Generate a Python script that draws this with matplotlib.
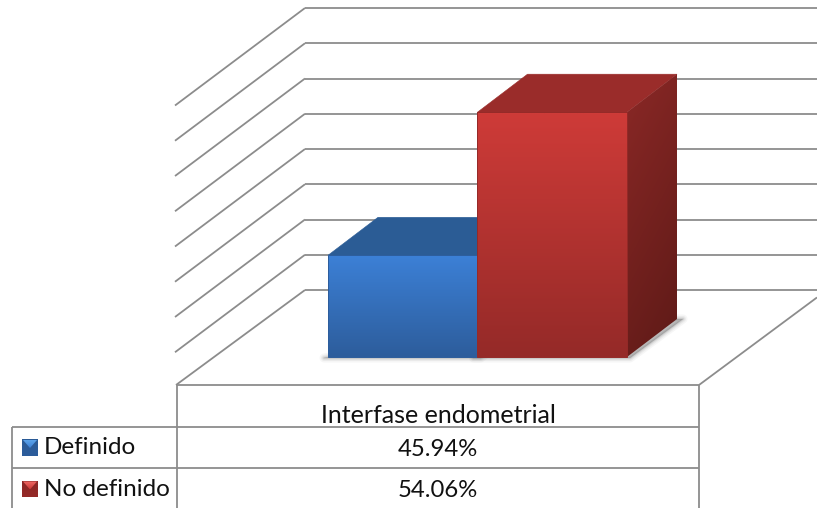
import numpy as np
import matplotlib
matplotlib.use("Agg")
import matplotlib.pyplot as plt
from matplotlib.patches import Polygon
from matplotlib.colors import LinearSegmentedColormap

# --- data ---
series_names = ["Definido", "No definido"]
series_values = [45.94, 54.06]
category = "Interfase endometrial"
axis_min, axis_max, axis_step = 40, 56, 2

front_colors = [("#3c80d6", "#2d5d9c"), ("#ce3b38", "#952a28")]
top_colors = ["#2b5c95", "#9a2c2a"]
side_colors = [("#234c7c", "#1b3a60"), ("#8a2826", "#5e1a17")]
key_colors = [("#5ba3ea", "#2a5a96"), ("#ee6a66", "#8a2725")]

# --- layout (pixels) ---
W, H = 817, 508
LINE = "#8c8c8c"
back_left, back_floor, back_top = 305, 290, 8
front_left, front_right, front_floor = 177, 699, 385
wall_drop = 97.5
depth_dx, depth_dy = 50, 38
bar_left, bar_width, bar_floor, bar_zero = 328, 149.5, 357, 360

px_per_unit = (back_floor - back_top) / (axis_max - axis_min)
def val_px(v):
    return (v - axis_min) * px_per_unit

fig = plt.figure(figsize=(W / 100, H / 100), dpi=100)
ax = fig.add_axes([0, 0, 1, 1])
ax.set_xlim(0, W)
ax.set_ylim(H, 0)
ax.axis("off")
lw_px = 1.8 * 72 / 100

def gradient(poly, c0, c1, zorder, diag=False):
    cmap = LinearSegmentedColormap.from_list("g", [c0, c1])
    xs, ys = zip(*poly)
    g = np.linspace(0, 1, 64)[:, None] * np.ones((64, 64))
    if diag:
        g = g * 0.75 + np.linspace(0, 1, 64)[None, :] * 0.25
    im = ax.imshow(g, cmap=cmap, vmin=0, vmax=1, aspect="auto", interpolation="bilinear",
                   extent=[min(xs), max(xs), max(ys), min(ys)], zorder=zorder)
    p = Polygon(poly, closed=True, fc="none", ec="none", transform=ax.transData)
    ax.add_patch(p)
    im.set_clip_path(p)

def line(xs, ys, z=1, lw=lw_px, c=LINE):
    ax.plot(xs, ys, color=c, lw=lw, zorder=z, solid_capstyle="butt")

# walls and gridlines
for tick in np.arange(axis_min, axis_max + axis_step, axis_step):
    y = back_floor - val_px(tick)
    line([back_left, W], [y, y])
    if tick == axis_min:
        line([front_left - 1, back_left], [front_floor, y])
    else:
        line([front_left - 2, back_left], [y + wall_drop, y])
# floor
line([front_right, W], [front_floor, front_floor - (W - front_right) * 0.742])

# bars
for i, (name, v) in enumerate(zip(series_names, series_values)):
    x0 = bar_left + i * bar_width
    x1 = x0 + bar_width
    h = val_px(v)
    ytop = bar_zero - h
    z = 3 + i
    # soft shadow
    shadow = [(x0 - 4, bar_floor + 1), (x1 + 3, bar_floor + 1),
              (x1 + depth_dx + 6, bar_floor - depth_dy), (x1 + depth_dx, bar_floor - depth_dy)]
    for w, a in zip([9, 6, 3.5, 1.5], [0.05, 0.07, 0.10, 0.14]):
        ax.add_patch(Polygon(shadow, closed=True, fc="#555555", ec="#555555", alpha=a, lw=w * 0.72,
                             joinstyle="round", zorder=2))
    top = [(x0, ytop), (x1, ytop), (x1 + depth_dx, ytop - depth_dy), (x0 + depth_dx, ytop - depth_dy)]
    ax.add_patch(Polygon(top, closed=True, fc=top_colors[i], ec=top_colors[i], lw=0.4, zorder=z))
    side = [(x1, ytop), (x1 + depth_dx, ytop - depth_dy),
            (x1 + depth_dx, bar_floor - depth_dy), (x1, bar_floor)]
    gradient(side, side_colors[i][0], side_colors[i][1], z, diag=True)
    front = [(x0, ytop), (x1, ytop), (x1, bar_floor), (x0, bar_floor)]
    gradient(front, front_colors[i][0], front_colors[i][1], z + 0.1)
    ax.add_patch(Polygon(front, closed=True, fc="none", ec=front_colors[i][1], lw=0.7, zorder=z + 0.2))

# data table
row_tops = [385, 427, 468, 510]
table_left = 12
line([front_left, front_right], [row_tops[0], row_tops[0]])
for y in row_tops[1:]:
    line([table_left, front_right], [y, y], z=6)
line([front_left, front_left], [row_tops[0], H], z=6)
line([front_right, front_right], [row_tops[0], H], z=6)
line([table_left, table_left], [row_tops[1], H], z=6)

FONT = "Lato"
center = (front_left + front_right) / 2
ax.text(center, 415.5, category, ha="center", va="center", fontsize=18, family=FONT, color="#111111", zorder=7)
for i, (name, v) in enumerate(zip(series_names, series_values)):
    yc = (row_tops[i + 1] + row_tops[i + 2]) / 2
    ax.text(center, yc + 1.5, f"{v:.2f}%", ha="center", va="center", fontsize=17.2, family=FONT, color="#111111", zorder=7)
    ax.text(44, yc + 0.5, name, ha="left", va="center", fontsize=17.5, family=FONT, color="#111111", zorder=7)
    # legend key
    kx0, kx1, ky0, ky1 = 22, 38, yc - 8.5, yc + 8.5
    kc = (kx0 + kx1) / 2
    key = [(kx0, ky0), (kx1, ky0), (kx1, ky1), (kx0, ky1)]
    gradient(key, key_colors[i][1], front_colors[i][1], 7)
    tri = [(kx0 + 1, ky0 + 1), (kx1 - 1, ky0 + 1), (kc, ky0 + 9)]
    gradient(tri, key_colors[i][0], front_colors[i][0], 7.1)

fig.savefig("out.png", dpi=100, facecolor="white")
